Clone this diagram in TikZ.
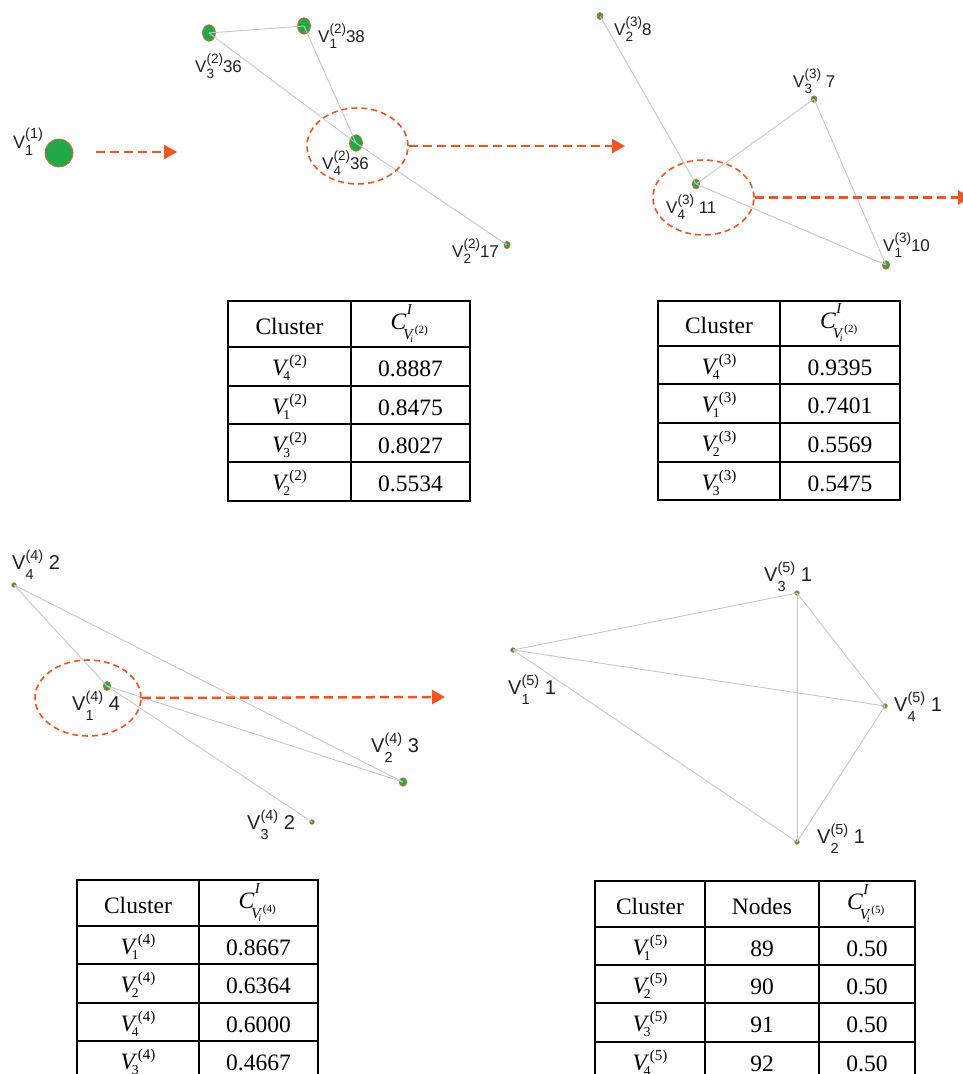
\documentclass[tikz,border=0pt]{standalone}
\usepackage{fontspec}
\usetikzlibrary{shapes.geometric,arrows.meta}
\newfontfamily\labfont{Liberation Sans}
\newfontfamily\tabfont{Liberation Serif}
\definecolor{nodegr}{RGB}{34,168,72}
\definecolor{nodeor}{RGB}{232,96,40}
\definecolor{flowc}{RGB}{240,84,36}
\definecolor{edgec}{RGB}{200,200,200}
\definecolor{labc}{RGB}{35,31,32}
% generic label: V, subscript #1, superscript (#2), then #3; script size #4, lower #5, raise #6
\newcommand\LVgen[6]{V\rlap{\raisebox{-#5pt}{\fontsize{#4}{#4}\selectfont #1}}\raisebox{#6pt}{\fontsize{#4}{#4}\selectfont(#2)}#3}
\newcommand\LVo[3]{\LVgen{#1}{#2}{#3}{14.5}{7}{9.5}}
\newcommand\LVa[3]{\LVgen{#1}{#2}{#3}{13.5}{6}{9}}
\newcommand\LVb[3]{\LVgen{#1}{#2}{#3}{14.5}{10.5}{8.5}}
% table cluster symbol
\newcommand\TV[2]{\textit{V}\rlap{\kern-5.5pt\raisebox{-5.5pt}{\fontsize{13.5}{13.5}\selectfont #1}}\kern0.5pt\raisebox{10pt}{\fontsize{15}{15}\selectfont(#2)}}
% table header symbol
\newcommand\CI[1]{\makebox[40pt][l]{\textit{C}%
 \rlap{\kern0.5pt\raisebox{15pt}{\fontsize{15}{15}\selectfont\itshape I}}%
 \rlap{\kern-3pt\raisebox{-10.5pt}{\fontsize{15}{15}\selectfont\itshape V}}%
 \rlap{\kern4pt\raisebox{-13.5pt}{\fontsize{10}{10}\selectfont\itshape i}}%
 \rlap{\kern8.5pt\raisebox{-4pt}{\fontsize{11}{11}\selectfont (#1)}}}}
\begin{document}
\begin{tikzpicture}[x=1pt,y=-1pt,
  vtx/.style={ellipse,draw=nodeor,fill=nodegr,line width=0.7pt,inner sep=0pt},
  edge/.style={draw=edgec,line width=0.9pt},
  clus/.style={ellipse,draw=flowc,dash pattern=on 6pt off 4pt,line width=1.6pt,inner sep=0pt},
  flow/.style={draw=flowc,line width=2.5pt,dash pattern=on 9pt off 5pt,-{Triangle[length=13pt,width=14pt]}},
  lab/.style={anchor=base west,inner sep=0pt,text=labc,font=\labfont\fontsize{17}{17}\selectfont},
  labb/.style={anchor=base west,inner sep=0pt,text=labc,font=\labfont\fontsize{20}{20}\selectfont},
  cell/.style={anchor=base,inner sep=0pt,text=black,font=\tabfont\fontsize{23.5}{23.5}\selectfont},
  tabline/.style={draw=black,line width=2pt}]
\useasboundingbox (0,0) rectangle (963,1074);
\clip (0,0) rectangle (963,1074);

% ---------- level 1 ----------
\node[vtx,minimum width=28pt,minimum height=28pt] (a1) at (59,153) {};
\node[lab,font=\labfont\fontsize{18}{18}\selectfont] (la1) at (13,148) {\LVo{1}{1}{}};
\coordinate (s1) at (96,152);
\coordinate (t1) at (177,152);
\draw[flow] (s1) -- (t1);

% ---------- level 2 ----------
\node[vtx,minimum width=13pt,minimum height=16.5pt] (b3) at (209,33) {};
\node[vtx,minimum width=13pt,minimum height=16.5pt] (b1) at (304,26) {};
\node[vtx,minimum width=13pt,minimum height=16.5pt] (b4) at (356,143) {};
\node[vtx,minimum width=6pt,minimum height=7.5pt] (b2) at (507,245) {};
\draw[edge] (b3.center) -- (b1.center);
\draw[edge] (b3.center) -- (b4.center);
\draw[edge] (b4.center) -- (b2.center);
\draw[edge] (b1.center) -- (b4.center);
\node[lab] (lb3) at (195,72) {\LVa{3}{2}{36}};
\node[lab] (lb1) at (318,42) {\LVa{1}{2}{38}};
\node[lab] (lb4) at (322,169) {\LVa{4}{2}{36}};
\node[lab] (lb2) at (452,257) {\LVa{2}{2}{17}};
\node[clus,minimum width=101pt,minimum height=76pt] (e2) at (357.5,146) {};
\coordinate (t2) at (625,146);
\draw[flow] (e2.east) -- (t2);

% ---------- level 3 ----------
\node[vtx,minimum width=6pt,minimum height=7pt] (c2) at (600,16) {};
\node[vtx,minimum width=6pt,minimum height=6.5pt] (c3) at (814,99) {};
\node[vtx,minimum width=7.5pt,minimum height=10pt] (c4) at (696,184) {};
\node[vtx,minimum width=7.5pt,minimum height=8.5pt] (c1) at (886,265) {};
\draw[edge] (c2.center) -- (c4.center);
\draw[edge] (c4.center) -- (c3.center);
\draw[edge] (c3.center) -- (c1.center);
\draw[edge] (c4.center) -- (c1.center);
\node[lab] (lc2) at (614,35) {\LVa{2}{3}{8}};
\node[lab] (lc3) at (793,87) {\LVa{3}{3}{\ 7}};
\node[lab] (lc4) at (666,213) {\LVa{4}{3}{\ 11}};
\node[lab] (lc1) at (883,251) {\LVa{1}{3}{10}};
\node[clus,minimum width=101pt,minimum height=75pt] (e3) at (703.5,197.5) {};
\coordinate (t3) at (971,197.5);
\draw[flow] (e3.east) -- (t3);

% ---------- table 1 ----------
\draw[tabline] (228,301) rectangle (470,501);
\draw[tabline] (351,301) -- (351,501);
\foreach \yy in {347,386,424,462} \draw[tabline] (228,\yy) -- (470,\yy);
\node[cell] (ta0) at (289.5,334) {Cluster};
\node[cell] (tb0) at (410.5,329) {\CI{2}};
\node[cell] (ta1) at (289.5,375) {\TV{4}{2}};
\node[cell] (tb1) at (410.5,376) {0.8887};
\node[cell] (ta2) at (289.5,414) {\TV{1}{2}};
\node[cell] (tb2) at (410.5,415) {0.8475};
\node[cell] (ta3) at (289.5,452) {\TV{3}{2}};
\node[cell] (tb3) at (410.5,453) {0.8027};
\node[cell] (ta4) at (289.5,490) {\TV{2}{2}};
\node[cell] (tb4) at (410.5,491) {0.5534};

% ---------- table 2 ----------
\draw[tabline] (658,301) rectangle (900,500);
\draw[tabline] (780,301) -- (780,500);
\foreach \yy in {346,384,423,462} \draw[tabline] (658,\yy) -- (900,\yy);
\node[cell] (ua0) at (719,333) {Cluster};
\node[cell] (ub0) at (840,328) {\CI{2}};
\node[cell] (ua1) at (719,374) {\TV{4}{3}};
\node[cell] (ub1) at (840,375) {0.9395};
\node[cell] (ua2) at (719,412) {\TV{1}{3}};
\node[cell] (ub2) at (840,413) {0.7401};
\node[cell] (ua3) at (719,451) {\TV{2}{3}};
\node[cell] (ub3) at (840,452) {0.5569};
\node[cell] (ua4) at (719,490) {\TV{3}{3}};
\node[cell] (ub4) at (840,491) {0.5475};

% ---------- level 4 ----------
\node[vtx,minimum width=4.5pt,minimum height=4.5pt] (d4) at (14,585) {};
\node[vtx,minimum width=7.5pt,minimum height=9pt] (d1) at (107,686) {};
\node[vtx,minimum width=7.5pt,minimum height=8.5pt] (d2) at (403,782) {};
\node[vtx,minimum width=4.5pt,minimum height=4.5pt] (d3) at (312,822) {};
\draw[edge] (d4.center) -- (d1.center);
\draw[edge] (d4.center) -- (d2.center);
\draw[edge] (d1.center) -- (d2.center);
\draw[edge] (d1.center) -- (d3.center);
\node[labb] (ld4) at (12,569) {\LVb{4}{4}{\ 2}};
\node[labb] (ld1) at (72,710) {\LVb{1}{4}{\ 4}};
\node[labb] (ld2) at (371,752) {\LVb{2}{4}{\ 3}};
\node[labb] (ld3) at (247,829) {\LVb{3}{4}{\ 2}};
\node[clus,minimum width=106pt,minimum height=76pt] (e4) at (88,698) {};
\coordinate (t4) at (445,697);
\draw[flow] (e4.east) -- (t4);

% ---------- level 5 ----------
\node[vtx,minimum width=4.5pt,minimum height=4.5pt] (f1) at (513,650) {};
\node[vtx,minimum width=4.5pt,minimum height=4.5pt] (f3) at (797,593) {};
\node[vtx,minimum width=4.5pt,minimum height=4.5pt] (f4) at (885,706) {};
\node[vtx,minimum width=4.5pt,minimum height=4.5pt] (f2) at (797,842) {};
\draw[edge] (f1.center) -- (f3.center);
\draw[edge] (f1.center) -- (f4.center);
\draw[edge] (f1.center) -- (f2.center);
\draw[edge] (f3.center) -- (f4.center);
\draw[edge] (f3.center) -- (f2.center);
\draw[edge] (f4.center) -- (f2.center);
\node[labb] (lf3) at (764,581) {\LVb{3}{5}{\ 1}};
\node[labb] (lf1) at (508,694) {\LVb{1}{5}{\ 1}};
\node[labb] (lf4) at (894,711) {\LVb{4}{5}{\ 1}};
\node[labb] (lf2) at (817,843) {\LVb{2}{5}{\ 1}};

% ---------- table 3 ----------
\draw[tabline] (77,880) rectangle (318,1082);
\draw[tabline] (199,880) -- (199,1082);
\foreach \yy in {926,964,1003,1041} \draw[tabline] (77,\yy) -- (318,\yy);
\node[cell] (va0) at (138,913) {Cluster};
\node[cell] (vb0) at (258.5,908) {\CI{4}};
\node[cell] (va1) at (138,954) {\TV{1}{4}};
\node[cell] (vb1) at (258.5,955) {0.8667};
\node[cell] (va2) at (138,992) {\TV{2}{4}};
\node[cell] (vb2) at (258.5,993) {0.6364};
\node[cell] (va3) at (138,1031) {\TV{4}{4}};
\node[cell] (vb3) at (258.5,1032) {0.6000};
\node[cell] (va4) at (138,1069) {\TV{3}{4}};
\node[cell] (vb4) at (258.5,1070) {0.4667};

% ---------- table 4 ----------
\draw[tabline] (595,881) rectangle (915,1083);
\draw[tabline] (705,881) -- (705,1083);
\draw[tabline] (819,881) -- (819,1083);
\foreach \yy in {927,965,1003,1042} \draw[tabline] (595,\yy) -- (915,\yy);
\node[cell] (wa0) at (650,914) {Cluster};
\node[cell] (wb0) at (762,914) {Nodes};
\node[cell] (wc0) at (867,909) {\CI{5}};
\node[cell] (wa1) at (650,955) {\TV{1}{5}};
\node[cell] (wb1) at (762,956) {89};
\node[cell] (wc1) at (867,956) {0.50};
\node[cell] (wa2) at (650,993) {\TV{2}{5}};
\node[cell] (wb2) at (762,994) {90};
\node[cell] (wc2) at (867,994) {0.50};
\node[cell] (wa3) at (650,1031) {\TV{3}{5}};
\node[cell] (wb3) at (762,1032) {91};
\node[cell] (wc3) at (867,1032) {0.50};
\node[cell] (wa4) at (650,1070) {\TV{4}{5}};
\node[cell] (wb4) at (762,1071) {92};
\node[cell] (wc4) at (867,1071) {0.50};
\end{tikzpicture}
\end{document}
